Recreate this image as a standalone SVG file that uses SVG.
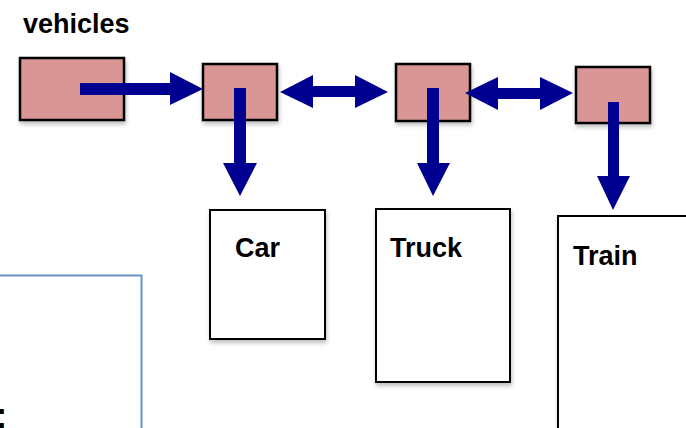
<svg xmlns="http://www.w3.org/2000/svg" width="686" height="428" viewBox="0 0 686 428">
<style>
.ptr{fill:#D99694;stroke:#000;stroke-width:2.5;filter:url(#sh)}
.obj{fill:#fff;stroke:#000;stroke-width:2;filter:url(#sh)}
.lbl{font-family:"Liberation Sans",Arial,sans-serif;font-weight:bold;font-size:27px;fill:#000}
.arr{fill:#000090}
</style>
<defs>
<filter id="sh" x="-20%" y="-20%" width="150%" height="150%">
<feDropShadow dx="1" dy="3" stdDeviation="2" flood-color="#000" flood-opacity="0.25"/>
</filter>
</defs>
<rect width="686" height="428" fill="#fff"/>
<g id="title"><text class="lbl" x="23" y="33">vehicles</text></g>
<g id="frame"><rect x="-2" y="275.5" width="143.5" height="160" fill="none" stroke="#6A92CC" stroke-width="2"/></g>
<g id="colon"><text class="lbl" x="-5" y="428" style="font-size:37px">:</text></g>
<g id="head"><rect class="ptr" x="20" y="58" width="104" height="62"/></g>
<g id="n1"><rect class="ptr" x="203" y="64" width="74" height="56"/></g>
<g id="n2"><rect class="ptr" x="396" y="64" width="74" height="57"/></g>
<g id="n3"><rect class="ptr" x="576" y="67" width="74" height="56"/></g>
<g id="car"><rect class="obj" x="210" y="210" width="115" height="129"/><text class="lbl" x="235" y="257">Car</text></g>
<g id="truck"><rect class="obj" x="376" y="209" width="134" height="173"/><text class="lbl" x="390" y="257">Truck</text></g>
<g id="train"><rect class="obj" x="558" y="216" width="140" height="230"/><text class="lbl" x="573" y="265">Train</text></g>
<g id="connectors">
<polygon class="arr" points="80,83 170,83 170,72 203,89 170,105 170,95 80,95"/>
<polygon class="arr" points="280,92 313,75 313,86 355,86 355,75 388,92 355,108 355,97 313,97 313,108"/>
<polygon class="arr" points="465,93 498,77 498,88 540,88 540,77 573,93 540,110 540,99 498,99 498,110"/>
<polygon class="arr" points="234,88 246,88 246,163 257,163 240,196 223,163 234,163"/>
<polygon class="arr" points="427,88 439,88 439,163 450,163 433,196 417,163 427,163"/>
<polygon class="arr" points="608,102 619,102 619,176 630,176 613,210 597,176 608,176"/>
</g>
</svg>
